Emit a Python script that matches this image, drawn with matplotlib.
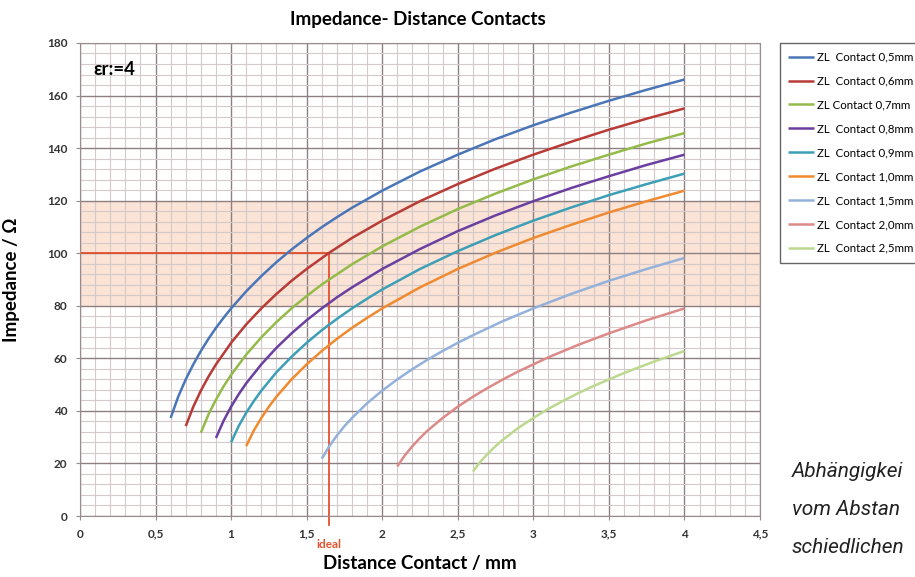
import matplotlib
matplotlib.use("Agg")
import matplotlib.pyplot as plt
from matplotlib.ticker import MultipleLocator, FixedLocator, FixedFormatter
import matplotlib.transforms as mtransforms

plt.rcParams['font.family'] = ['Lato', 'DejaVu Sans']

# contact diameter -> (distance mm, impedance ohm)
x_05 = [0.6, 0.65, 0.7, 0.75, 0.8, 0.85, 0.9, 0.95, 1.0, 1.1, 1.2, 1.3, 1.4, 1.5, 1.6, 1.7, 1.8, 2.0,
        2.25, 2.5, 2.75, 3.0, 3.25, 3.5, 3.75, 4.0]
z_05 = [37.3, 45.4, 52.0, 57.7, 62.8, 67.4, 71.6, 75.4, 79.0, 85.5, 91.3, 96.6, 101.4, 105.8, 109.9, 113.7,
        117.3, 123.8, 131.1, 137.5, 143.4, 148.7, 153.5, 158.0, 162.2, 166.1]
x_06 = [0.7, 0.75, 0.8, 0.85, 0.9, 1.0, 1.1, 1.2, 1.3, 1.4, 1.5, 1.65, 1.8, 2.0, 2.25, 2.5, 2.75, 3.0,
        3.25, 3.5, 3.75, 4.0]
z_06 = [34.2, 41.6, 47.7, 53.0, 57.7, 65.9, 72.9, 79.0, 84.5, 89.5, 94.0, 100.2, 105.8, 112.4, 119.8,
        126.3, 132.2, 137.5, 142.4, 147.0, 151.2, 155.1]
x_07 = [0.8, 0.85, 0.9, 0.95, 1.0, 1.1, 1.2, 1.3, 1.4, 1.5, 1.6, 1.8, 2.0, 2.25, 2.5, 2.75, 3.0, 3.25,
        3.5, 3.75, 4.0]
z_07 = [31.7, 38.6, 44.3, 49.3, 53.7, 61.4, 68.0, 73.8, 79.0, 83.7, 88.1, 95.8, 102.6, 110.1, 116.8,
        122.7, 128.1, 133.0, 137.5, 141.8, 145.7]
x_08 = [0.9, 0.95, 1.0, 1.05, 1.1, 1.2, 1.3, 1.4, 1.5, 1.6, 1.7, 1.8, 2.0, 2.25, 2.5, 2.75, 3.0, 3.25,
        3.5, 3.75, 4.0]
z_08 = [29.7, 36.2, 41.6, 46.3, 50.5, 57.7, 64.0, 69.5, 74.5, 79.0, 83.2, 87.0, 94.0, 101.6, 108.4,
        114.4, 119.8, 124.8, 129.3, 133.6, 137.5]
x_09 = [1.0, 1.05, 1.1, 1.15, 1.2, 1.3, 1.4, 1.5, 1.6, 1.7, 1.8, 1.9, 2.0, 2.25, 2.5, 2.75, 3.0, 3.25,
        3.5, 3.75, 4.0]
z_09 = [28.0, 34.2, 39.3, 43.7, 47.7, 54.7, 60.6, 65.9, 70.7, 75.0, 79.0, 82.7, 86.2, 94.0, 100.8,
        106.9, 112.4, 117.4, 122.1, 126.3, 130.3]
x_10 = [1.1, 1.15, 1.2, 1.25, 1.3, 1.4, 1.5, 1.6, 1.7, 1.8, 1.9, 2.0, 2.25, 2.5, 2.75, 3.0, 3.25, 3.5,
        3.75, 4.0]
z_10 = [26.6, 32.5, 37.3, 41.6, 45.4, 52.0, 57.7, 62.8, 67.4, 71.6, 75.4, 79.0, 87.0, 94.0, 100.2,
        105.8, 110.8, 115.5, 119.8, 123.8]
x_15 = [1.6, 1.65, 1.7, 1.75, 1.8, 1.9, 2.0, 2.1, 2.2, 2.3, 2.4, 2.5, 2.6, 2.8, 3.0, 3.25, 3.5, 3.75, 4.0]
z_15 = [21.8, 26.6, 30.6, 34.2, 37.3, 42.9, 47.7, 52.0, 55.9, 59.5, 62.8, 65.9, 68.8, 74.2, 79.0, 84.5,
        89.5, 94.0, 98.2]
x_20 = [2.1, 2.15, 2.2, 2.25, 2.3, 2.4, 2.5, 2.6, 2.7, 2.8, 2.9, 3.1, 3.3, 3.5, 3.75, 4.0]
z_20 = [18.9, 23.1, 26.6, 29.7, 32.5, 37.3, 41.6, 45.4, 48.8, 52.0, 55.0, 60.4, 65.2, 69.5, 74.5, 79.0]
x_25 = [2.6, 2.65, 2.7, 2.75, 2.8, 2.9, 3.0, 3.1, 3.2, 3.3, 3.4, 3.6, 3.8, 4.0]
z_25 = [16.9, 20.7, 23.8, 26.6, 29.1, 33.5, 37.3, 40.8, 43.9, 46.8, 49.5, 54.4, 58.8, 62.8]

labels = ['ZL  Contact 0,5mm', 'ZL  Contact 0,6mm', 'ZL Contact 0,7mm', 'ZL  Contact 0,8mm',
          'ZL  Contact 0,9mm', 'ZL  Contact 1,0mm', 'ZL  Contact 1,5mm', 'ZL  Contact 2,0mm',
          'ZL  Contact 2,5mm']
colors = ['#4a76b8', '#b83b36', '#94bb4a', '#6a3fa0', '#3d9fb6', '#f08a30', '#93b1da', '#dc8a88', '#bcd98f']
series = [(x_05, z_05), (x_06, z_06), (x_07, z_07), (x_08, z_08), (x_09, z_09),
          (x_10, z_10), (x_15, z_15), (x_20, z_20), (x_25, z_25)]

x_ticks = [0, 0.5, 1, 1.5, 2, 2.5, 3, 3.5, 4, 4.5]
x_ticklabels = ['0', '0,5', '1', '1,5', '2', '2,5', '3', '3,5', '4', '4,5']
band = (80, 120)
ideal_x, ideal_z = 1.65, 100

# caption beside the chart, cropped at the page edge as in the source
cap = ['Abhängigkei', 'vom Abstan', 'schiedlichen']

fig = plt.figure(figsize=(9.15, 5.77), dpi=100)
ax = fig.add_axes([0.0874, 0.1057, 0.7432, 0.8198])

ax.set_xlim(0, 4.5)
ax.set_ylim(0, 180)
ax.set_axisbelow(True)

ax.xaxis.set_major_locator(FixedLocator(x_ticks))
ax.xaxis.set_major_formatter(FixedFormatter(x_ticklabels))
ax.xaxis.set_minor_locator(MultipleLocator(0.1))
ax.yaxis.set_major_locator(MultipleLocator(20))
ax.yaxis.set_minor_locator(MultipleLocator(4))
ax.grid(which='major', color='#8e8080', linewidth=1.0)
ax.grid(which='minor', color='#d4caca', linewidth=0.8)
ax.tick_params(which='major', length=3, color='#9a8c8c', labelsize=8.5, labelcolor='#333333', pad=6)
ax.tick_params(which='minor', length=0)
for lab in ax.get_xticklabels() + ax.get_yticklabels():
    lab.set_fontweight('bold')
for s in ax.spines.values():
    s.set_color('#9a8c8c')

ax.axhspan(band[0], band[1], color='#fbdccb', alpha=0.8, zorder=0.3, linewidth=0)

for (xs, zs), lab, c in zip(series, labels, colors):
    ax.plot(xs, zs, color=c, linewidth=1.8, label=lab, solid_capstyle='butt', solid_joinstyle='round')

# ideal marker lines
red = '#e5502e'
ax.plot([0, ideal_x], [ideal_z, ideal_z], color=red, linewidth=1.3, zorder=1.5)
ax.plot([ideal_x, ideal_x], [-3.5, ideal_z], color=red, linewidth=1.3, zorder=1.5, clip_on=False)
trans = mtransforms.blended_transform_factory(ax.transData, ax.transAxes)
ax.text(ideal_x, -0.061, 'ideal', transform=trans, color=red, fontsize=8.5,
        fontweight='bold', ha='center', va='center')

ax.text(0.09, 170, 'εr:=4', fontsize=13.5, fontweight='bold', ha='left', va='center')

fig.text(418 / 915, 1 - 20 / 577, 'Impedance- Distance Contacts', fontsize=13.5,
         fontweight='bold', ha='center', va='center')
ax.set_xlabel('Distance Contact / mm', fontsize=13.5, fontweight='bold')
ax.xaxis.set_label_coords(0.5, -0.083)
ax.set_ylabel('Impedance / Ω', fontsize=13.5, fontweight='bold')
ax.yaxis.set_label_coords(-0.088, 0.5)

leg = ax.legend(loc='upper left', bbox_to_anchor=(1.029, 1.0), borderaxespad=0,
                fontsize=8.3, frameon=True, fancybox=False, labelspacing=1.12,
                borderpad=0.75, handlelength=2.2, handletextpad=0.3)
leg.get_frame().set_edgecolor('#404040')
leg.get_frame().set_linewidth(1.0)

for i, t in enumerate(cap):
    fig.text(792 / 915, 1 - (477 + 38 * i) / 577, t, fontsize=15, style='italic',
             family=['Roboto', 'DejaVu Sans'], color='#222222',
             ha='left', va='baseline')

fig.savefig('out.png', dpi=100)
